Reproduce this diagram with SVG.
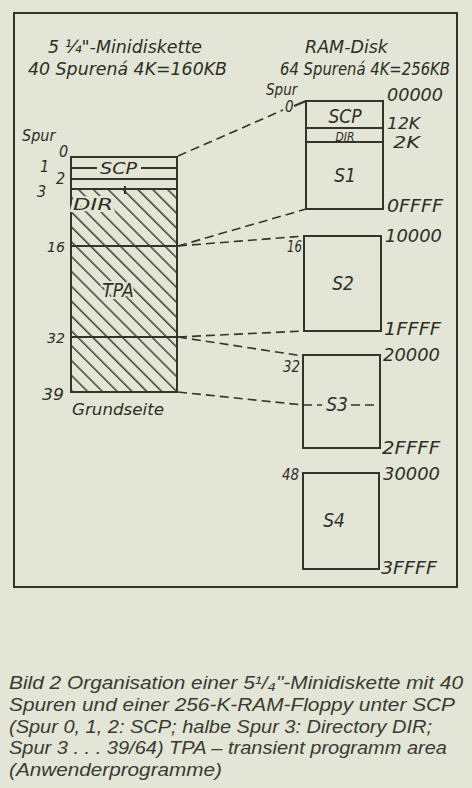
<svg xmlns="http://www.w3.org/2000/svg" width="472" height="788" viewBox="0 0 472 788">
<style>
.bg{fill:#e3e5d6}
.ln{stroke:#34342a;stroke-width:2;fill:none}
.dl{stroke:#34342a;stroke-width:1.6;fill:none;stroke-dasharray:9 5}
.t{font-family:"DejaVu Sans Condensed","DejaVu Sans",sans-serif;font-style:oblique;font-stretch:condensed;fill:#2e2e26}
.s15{font-size:15px}.s16{font-size:16px}.s17{font-size:17px}.s19{font-size:19px}.s12{font-size:12px}.s14{font-size:14px}
.mid{text-anchor:middle}
.knock{paint-order:stroke;stroke:#e3e5d6;stroke-width:4}
.cap{font-family:"Liberation Sans",Arial,sans-serif;font-style:italic;font-size:17.5px;fill:#3a3a33}
</style>
<defs>
<pattern id="hatch" patternUnits="userSpaceOnUse" width="10.5" height="10.5" patternTransform="rotate(45)">
<line x1="0" y1="5" x2="10.5" y2="5" stroke="#34342a" stroke-width="1.4"/>
</pattern>
</defs>
<rect class="bg" x="0" y="0" width="472" height="788"/>
<rect class="ln" x="14" y="13" width="443" height="574" stroke-width="1.6"/>

<g id="titles">
<text class="t s17" x="48" y="53" textLength="154" lengthAdjust="spacingAndGlyphs">5 ¼"-Minidiskette</text>
<text class="t s17" x="28" y="75" textLength="199" lengthAdjust="spacingAndGlyphs">40 Spurená 4K=160KB</text>
<text class="t s17" x="305" y="53" textLength="83" lengthAdjust="spacingAndGlyphs">RAM-Disk</text>
<text class="t s17" x="280" y="75" textLength="170" lengthAdjust="spacingAndGlyphs">64 Spurená 4K=256KB</text>
</g>

<g id="diskette">
<rect x="71" y="189" width="106" height="203" fill="url(#hatch)"/>
<rect class="ln" x="71" y="157" width="106" height="235"/>
<line class="ln" x1="71" y1="168" x2="97" y2="168"/>
<line class="ln" x1="141" y1="168" x2="177" y2="168"/>
<line class="ln" x1="71" y1="179" x2="177" y2="179"/>
<line class="ln" x1="71" y1="189" x2="177" y2="189"/>
<line class="ln" x1="125" y1="186" x2="125" y2="194" stroke-width="1.5"/>
<line class="ln" x1="71" y1="246" x2="177" y2="246"/>
<line class="ln" x1="71" y1="337" x2="177" y2="337"/>
<text class="t s16" x="100" y="174" textLength="37" lengthAdjust="spacingAndGlyphs">SCP</text>
<text class="t s15 knock" x="73" y="210" textLength="40" lengthAdjust="spacingAndGlyphs">DIR</text>
<text class="t s19 mid knock" x="118" y="297">TPA</text>
<text class="t s16" x="22" y="141">Spur</text>
<text class="t s16" x="59" y="157">0</text>
<text class="t s16" x="40" y="172">1</text>
<text class="t s16" x="56" y="184">2</text>
<text class="t s16" x="37" y="197">3</text>
<text class="t s14" x="47" y="252" textLength="18" lengthAdjust="spacingAndGlyphs">16</text>
<text class="t s14" x="47" y="343" textLength="18" lengthAdjust="spacingAndGlyphs">32</text>
<text class="t s16" x="42" y="400" textLength="22" lengthAdjust="spacingAndGlyphs">39</text>
<text class="t s16" x="72" y="415" textLength="92" lengthAdjust="spacingAndGlyphs">Grundseite</text>
</g>

<g id="ramdisk-s1">
<rect class="ln" x="306" y="101" width="77" height="108"/>
<line class="ln" x1="306" y1="128" x2="383" y2="128"/>
<line class="ln" x1="306" y1="142" x2="383" y2="142"/>
<text class="t s19 mid" x="345" y="123">SCP</text>
<text class="t s12 mid" x="345" y="141">DIR</text>
<text class="t s19 mid" x="345" y="182">S1</text>
<text class="t s15" x="266" y="95">Spur</text>
<text class="t s15" x="285" y="112">0</text>
<line class="ln" x1="294" y1="106" x2="306" y2="101" stroke-width="1.4"/>
<text class="t s17" x="387" y="101" textLength="56" lengthAdjust="spacingAndGlyphs">00000</text>
<text class="t s16" x="387" y="129" textLength="33" lengthAdjust="spacingAndGlyphs">12K</text>
<text class="t s16" x="393" y="148" textLength="27" lengthAdjust="spacingAndGlyphs">2K</text>
<text class="t s17" x="387" y="212" textLength="56" lengthAdjust="spacingAndGlyphs">0FFFF</text>
</g>

<g id="ramdisk-s2">
<rect class="ln" x="304" y="236" width="77" height="95"/>
<text class="t s19 mid" x="343" y="290">S2</text>
<text class="t s16" x="287" y="252" textLength="15" lengthAdjust="spacingAndGlyphs">16</text>
<text class="t s17" x="385" y="242" textLength="57" lengthAdjust="spacingAndGlyphs">10000</text>
<text class="t s17" x="384" y="335" textLength="57" lengthAdjust="spacingAndGlyphs">1FFFF</text>
</g>

<g id="ramdisk-s3">
<rect class="ln" x="303" y="355" width="77" height="93"/>
<text class="t s19 mid" x="337" y="411">S3</text>
<text class="t s16" x="283" y="372" textLength="17" lengthAdjust="spacingAndGlyphs">32</text>
<text class="t s17" x="383" y="361" textLength="57" lengthAdjust="spacingAndGlyphs">20000</text>
<text class="t s17" x="382" y="454" textLength="58" lengthAdjust="spacingAndGlyphs">2FFFF</text>
</g>

<g id="ramdisk-s4">
<rect class="ln" x="303" y="473" width="76" height="96"/>
<text class="t s19 mid" x="334" y="527">S4</text>
<text class="t s16" x="282" y="480" textLength="17" lengthAdjust="spacingAndGlyphs">48</text>
<text class="t s17" x="383" y="480" textLength="57" lengthAdjust="spacingAndGlyphs">30000</text>
<text class="t s17" x="381" y="574" textLength="56" lengthAdjust="spacingAndGlyphs">3FFFF</text>
</g>

<g id="connectors">
<line class="dl" x1="178" y1="156" x2="283" y2="110"/>
<line class="dl" x1="178" y1="246" x2="306" y2="209"/>
<line class="dl" x1="178" y1="246" x2="304" y2="236"/>
<line class="dl" x1="178" y1="337" x2="304" y2="331"/>
<line class="dl" x1="178" y1="337" x2="303" y2="356"/>
<line class="dl" x1="178" y1="392" x2="303" y2="405"/>
<line class="dl" x1="303" y1="405" x2="322" y2="405"/>
<line class="dl" x1="351" y1="405" x2="380" y2="405"/>
</g>

<g id="caption">
<text class="cap" x="9" y="689" textLength="454" lengthAdjust="spacingAndGlyphs">Bild 2  Organisation einer 5¹/₄"-Minidiskette mit 40</text>
<text class="cap" x="9" y="711" textLength="446" lengthAdjust="spacingAndGlyphs">Spuren und einer 256-K-RAM-Floppy unter SCP</text>
<text class="cap" x="9" y="733" textLength="423" lengthAdjust="spacingAndGlyphs">(Spur 0, 1, 2: SCP; halbe Spur 3: Directory DIR;</text>
<text class="cap" x="9" y="754" textLength="438" lengthAdjust="spacingAndGlyphs">Spur 3 . . . 39/64) TPA – transient programm area</text>
<text class="cap" x="9" y="776" textLength="213" lengthAdjust="spacingAndGlyphs">(Anwenderprogramme)</text>
</g>
</svg>
